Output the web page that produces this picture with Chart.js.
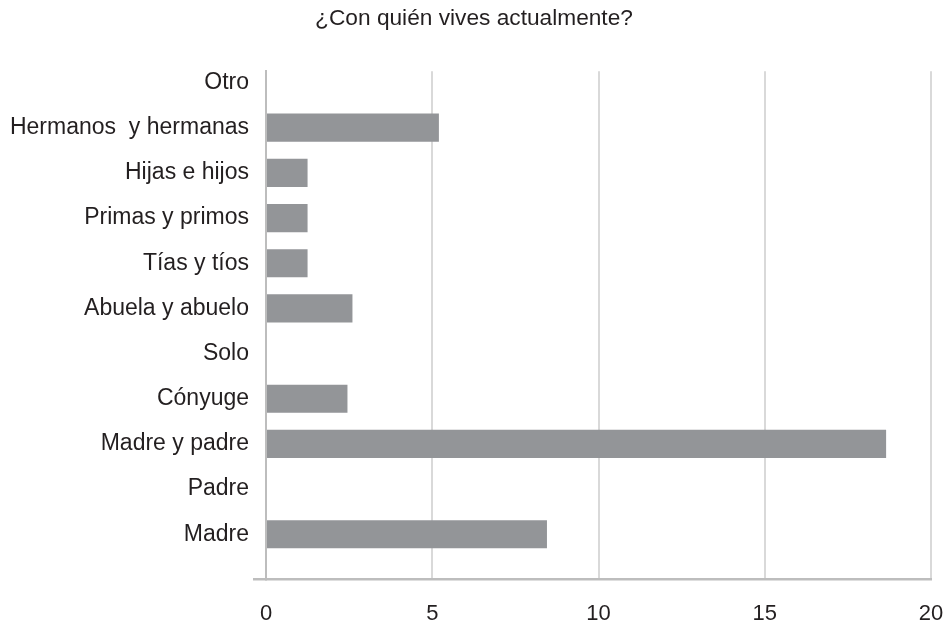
<!DOCTYPE html>
<html>
<head>
<meta charset="utf-8">
<script src="https://cdn.jsdelivr.net/npm/chart.js@4"></script>
<style>
  html, body { margin: 0; padding: 0; background: #ffffff; }
  #wrap { width: 943px; height: 623px; position: relative; }
</style>
</head>
<body>
<div id="wrap"><canvas id="c"></canvas></div>
<script>
// Categories listed from bottom (index 0) to top
const categories = [
  "Madre",
  "Padre",
  "Madre y padre",
  "Cónyuge",
  "Solo",
  "Abuela y abuelo",
  "Tías y tíos",
  "Primas y primos",
  "Hijas e hijos",
  "Hermanos  y hermanas",
  "Otro"
];
const values = [8.45, 0, 18.65, 2.45, 0, 2.6, 1.25, 1.25, 1.25, 5.2, 0];
const xTicks = [0, 5, 10, 15, 20];
const titleText = "¿Con quién vives actualmente?";

const barColor = "#939598";
const textColor = "#231f20";
const gridColor = "#d9d9d9";
const axisColor = "#bdbdbd";

Chart.defaults.font.family = "'Liberation Sans', Arial, Helvetica, sans-serif";

const padLeft = 17;
const padRight = 12;

// let the long category labels use the left padding (avoid clipping)
const unclipLabels = {
  id: "unclipLabels",
  afterLayout(chart) {
    if (chart.scales.y) chart.scales.y.left = 0;
  }
};

new Chart(document.getElementById("c"), {
  type: "bar",
  data: {
    datasets: [{
      data: categories.map((c, i) => ({ x: values[i], y: i })),
      backgroundColor: barColor,
      borderWidth: 0,
      barPercentage: 0.63,
      categoryPercentage: 1
    }]
  },
  plugins: [unclipLabels],
  options: {
    indexAxis: "y",
    responsive: true,
    maintainAspectRatio: false,
    animation: false,
    layout: { padding: { left: padLeft, right: padRight, top: 0, bottom: 0 } },
    plugins: {
      legend: { display: false },
      tooltip: { enabled: false },
      title: {
        display: true,
        text: titleText,
        color: textColor,
        font: { size: 22.7, weight: "normal" },
        padding: { top: 5, bottom: 39 }
      }
    },
    scales: {
      x: {
        type: "linear",
        min: 0,
        max: 20,
        afterBuildTicks: (s) => { s.ticks = xTicks.map(v => ({ value: v })); },
        afterFit: (s) => { s.height = 44; s.paddingLeft = 0; s.paddingRight = 0; },
        ticks: {
          color: textColor,
          font: { size: 22 },
          padding: 22,
          maxRotation: 0
        },
        grid: {
          color: gridColor,
          lineWidth: 2,
          drawTicks: false
        },
        border: { display: true, color: axisColor, width: 2.5 }
      },
      y: {
        type: "linear",
        offset: false,
        min: -0.99,
        max: 10.25,
        afterBuildTicks: (s) => {
          s.ticks = [{ value: s.min }].concat(categories.map((c, i) => ({ value: i })));
        },
        afterFit: (s) => { s.width = 266 - padLeft; s.paddingTop = 0; s.paddingBottom = 0; },
        ticks: {
          autoSkip: false,
          color: textColor,
          font: { size: 23 },
          padding: 4,
          callback: (v) => (Number.isInteger(v) && categories[v] !== undefined) ? categories[v] : ""
        },
        grid: {
          offset: false,
          drawOnChartArea: false,
          drawTicks: true,
          tickLength: 13,
          lineWidth: 2.5,
          color: (ctx) => (ctx.tick && ctx.tick.value < 0) ? axisColor : "rgba(0,0,0,0)"
        },
        border: { display: true, color: axisColor, width: 2 }
      }
    }
  }
});
</script>
</body>
</html>
